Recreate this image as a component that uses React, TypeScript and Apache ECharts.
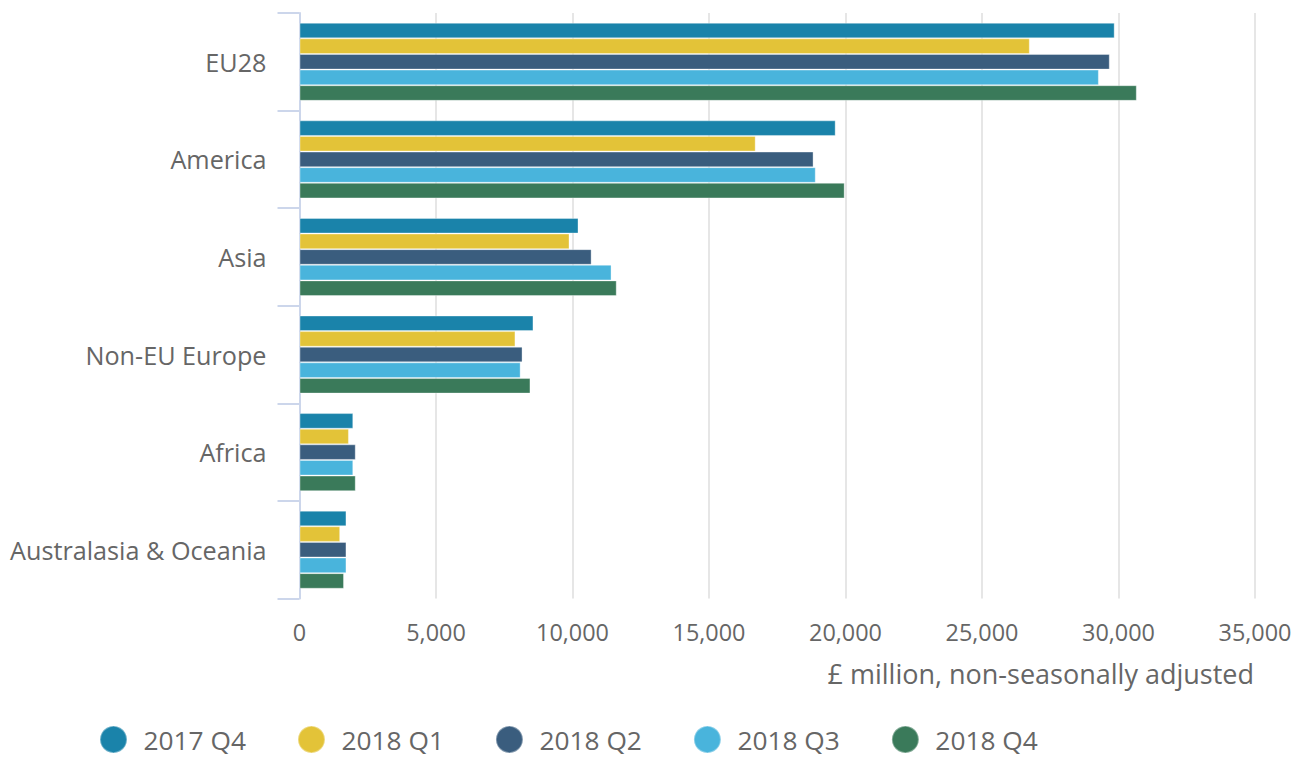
import React, { useEffect, useRef } from "react";
import * as echarts from "echarts";

const categories = ["EU28", "America", "Asia", "Non-EU Europe", "Africa", "Australasia & Oceania"];
const seriesNames = ["2017 Q4", "2018 Q1", "2018 Q2", "2018 Q3", "2018 Q4"];
const colors = ["#1a83aa", "#e3c338", "#3a5d7e", "#49b4dc", "#3a7a5a"];
const q4_2017 = [29860, 19640, 10220, 8570, 1970, 1720];
const q1_2018 = [26750, 16710, 9890, 7910, 1810, 1490];
const q2_2018 = [29680, 18830, 10700, 8170, 2060, 1720];
const q3_2018 = [29280, 18910, 11430, 8100, 1970, 1720];
const q4_2018 = [30670, 19970, 11620, 8460, 2060, 1630];
const seriesValues = [q4_2017, q1_2018, q2_2018, q3_2018, q4_2018];
const xTicks = { min: 0, max: 35000, interval: 5000 };
const axisTitle = "£ million, non-seasonally adjusted";

const FONT = "'Open Sans', sans-serif";
const TEXT = "#666666";

export default function App() {
  const ref = useRef<HTMLDivElement>(null);
  useEffect(() => {
    if (!ref.current) return;
    const chart = echarts.init(ref.current, undefined, { renderer: "svg" });
    chart.setOption({
      animation: false,
      textStyle: { fontFamily: FONT },
      color: colors,
      grid: { left: 299.5, right: 49, top: 13, bottom: 158.5, containLabel: false },
      legend: {
        left: 99,
        top: 725,
        padding: 0,
        icon: "circle",
        itemWidth: 50,
        itemHeight: 27,
        itemGap: 51,
        textStyle: { fontSize: 26.3, color: TEXT, fontFamily: FONT },
        data: seriesNames,
      },
      xAxis: {
        type: "value",
        min: xTicks.min,
        max: xTicks.max,
        interval: xTicks.interval,
        axisLine: { show: false },
        axisTick: { show: false },
        splitLine: { show: true, lineStyle: { color: "#e6e6e6", width: 2 } },
        axisLabel: {
          margin: 22,
          fontSize: 23.4,
          color: TEXT,
          fontFamily: FONT,
          formatter: (v: number) => v.toLocaleString("en-GB"),
        },
      },
      yAxis: {
        type: "category",
        inverse: true,
        data: categories,
        boundaryGap: true,
        axisLine: { show: true, lineStyle: { color: "#ccd6eb", width: 2 } },
        axisTick: { show: true, length: 22, lineStyle: { color: "#ccd6eb", width: 2 } },
        axisLabel: { margin: 33, fontSize: 25.2, color: TEXT, fontFamily: FONT },
      },
      graphic: [
        {
          type: "text",
          right: 50,
          top: 660,
          style: { text: axisTitle, fontSize: 27, fill: TEXT, fontFamily: FONT },
        },
      ],
      series: seriesNames.map((name, i) => ({
        name,
        type: "bar",
        data: seriesValues[i],
        barGap: "0%",
        barCategoryGap: "20%",
        itemStyle: { color: colors[i], borderColor: "rgba(255,255,255,0.35)", borderWidth: 1 },
      })),
    });
    return () => chart.dispose();
  }, []);
  return (
    <div
      ref={ref}
      style={{ position: "absolute", left: 0, top: 0, width: 1304, height: 757 }}
    />
  );
}
